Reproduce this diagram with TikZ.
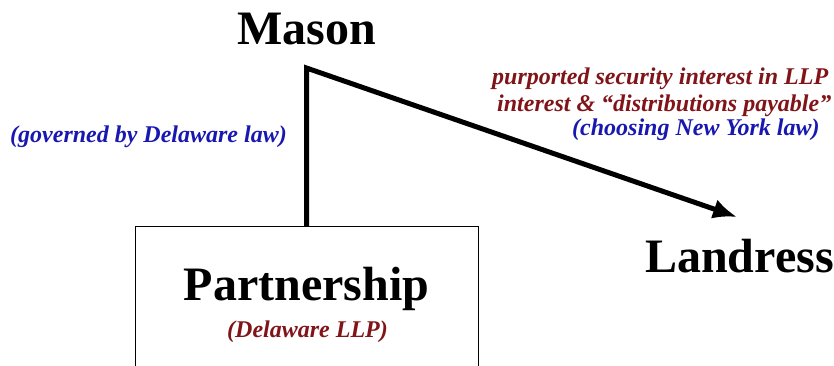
\documentclass[tikz,border=0pt]{standalone}
\usepackage{fontspec}
\setmainfont{Liberation Serif}
\usetikzlibrary{arrows.meta,positioning}
\definecolor{lawred}{RGB}{128,20,24}
\definecolor{lawblue}{RGB}{24,24,176}
\tikzset
{
    party/.style  = {font=\fontsize{48}{56}\selectfont\bfseries, inner sep=0pt, anchor=base},
    entity/.style = {draw=black, line width=1pt, minimum width=343pt, minimum height=170pt, anchor=north},
    note/.style   = {font=\fontsize{24}{28}\selectfont\bfseries\itshape, inner sep=0pt, anchor=base west},
    link/.style   = {line width=5pt, line join=miter}
}

\begin{document}
\begin{tikzpicture}[x=1pt, y=-1pt]
\newcommand\XA{306.5}
\newcommand\YA{68}
\clip (0,0) rectangle (834,366);
\useasboundingbox (0,0) rectangle (834,366);

\node (M)   [party]  at (\XA,45)        {Mason};
\node (P)   [entity] at (\XA,226)       {};
\node (Pt)  [party]  at (\XA,300)       {Partnership};
\node (Pd)  [note, anchor=base, text=lawred] at (\XA+1,337) {(Delaware LLP)};
\node (L)   [party, anchor=base west] at (645,272) {Landress};
\coordinate (top) at (\XA,\YA);
\coordinate (tip) at (737,217);

%% notes
\node (gov) [note, text=lawblue] at (10,143)  {(governed by Delaware law)};
\node (sec) [note, text=lawred]  at (492,85)  {purported security interest in LLP};
\node (int) [note, text=lawred]  at (497,112) {interest \& “distributions payable”};
\node (ny)  [note, text=lawblue] at (572,136) {(choosing New York law)};

\draw[link, -{Latex[length=24pt, width=20pt]}] (P.north) -- (top) -- (tip);
\end{tikzpicture}
\end{document}
